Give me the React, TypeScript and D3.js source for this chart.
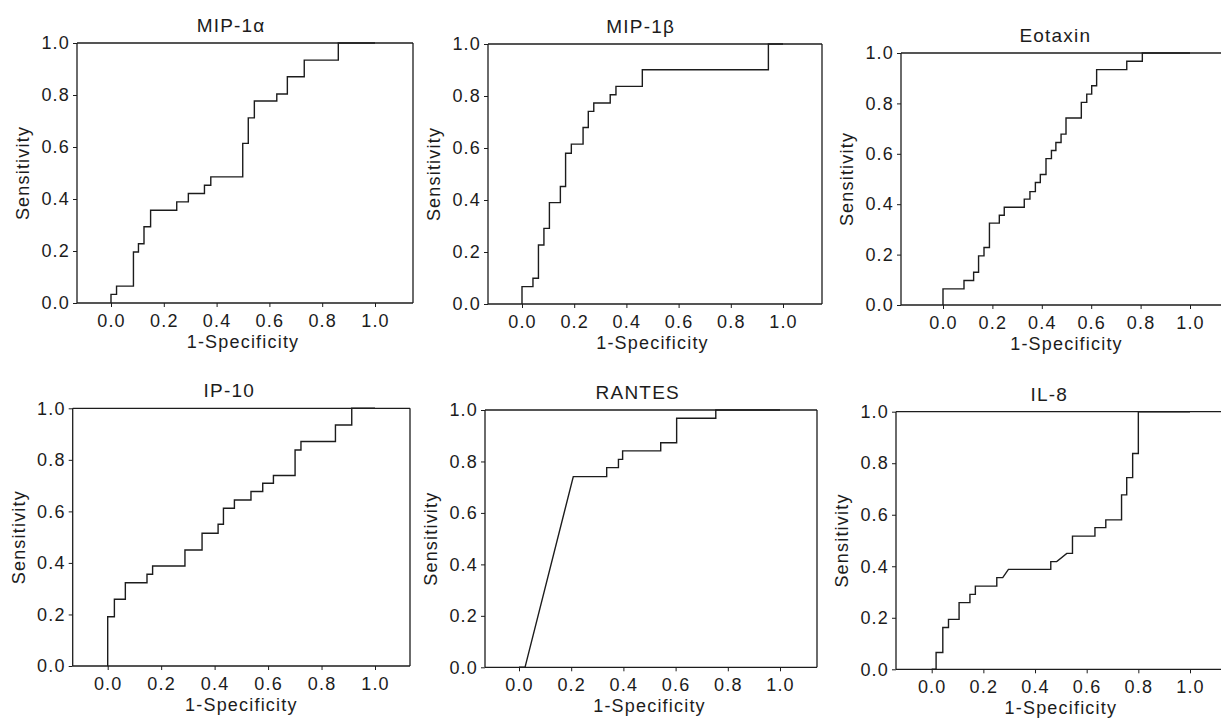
import React, { useEffect, useRef } from "react";
import * as d3 from "d3";

// ROC curve vertices: [1-Specificity, Sensitivity]
const mip1aRoc: [number, number][] = [
  [0, 0], [0, 0.033], [0.021, 0.033], [0.021, 0.065], [0.085, 0.065], [0.085, 0.196],
  [0.104, 0.196], [0.104, 0.228], [0.125, 0.228], [0.125, 0.293], [0.15, 0.293], [0.15, 0.357],
  [0.249, 0.357], [0.249, 0.389], [0.293, 0.389], [0.293, 0.421], [0.354, 0.421], [0.354, 0.453],
  [0.378, 0.453], [0.378, 0.485], [0.499, 0.485], [0.499, 0.614], [0.52, 0.614], [0.52, 0.712],
  [0.543, 0.712], [0.543, 0.777], [0.628, 0.777], [0.628, 0.804], [0.668, 0.804], [0.668, 0.87],
  [0.732, 0.87], [0.732, 0.934], [0.861, 0.934], [0.861, 1], [1, 1],
];

const mip1bRoc: [number, number][] = [
  [0, 0], [0, 0.067], [0.042, 0.067], [0.042, 0.099], [0.063, 0.099], [0.063, 0.227],
  [0.084, 0.227], [0.084, 0.291], [0.105, 0.291], [0.105, 0.39], [0.147, 0.39], [0.147, 0.452],
  [0.167, 0.452], [0.167, 0.58], [0.189, 0.58], [0.189, 0.615], [0.234, 0.615], [0.234, 0.679],
  [0.254, 0.679], [0.254, 0.741], [0.275, 0.741], [0.275, 0.773], [0.338, 0.773], [0.338, 0.805],
  [0.36, 0.805], [0.36, 0.837], [0.461, 0.837], [0.461, 0.901], [0.944, 0.901], [0.944, 1], [1, 1],
];

const eotaxinRoc: [number, number][] = [
  [0, 0], [0, 0.064], [0.085, 0.064], [0.085, 0.097], [0.124, 0.097], [0.124, 0.13],
  [0.144, 0.13], [0.144, 0.195], [0.166, 0.195], [0.166, 0.228], [0.188, 0.228], [0.188, 0.325],
  [0.228, 0.325], [0.228, 0.356], [0.248, 0.356], [0.248, 0.388], [0.329, 0.388], [0.329, 0.42],
  [0.352, 0.42], [0.352, 0.45], [0.374, 0.45], [0.374, 0.486], [0.394, 0.486], [0.394, 0.518],
  [0.417, 0.518], [0.417, 0.581], [0.439, 0.581], [0.439, 0.613], [0.457, 0.613], [0.457, 0.645],
  [0.478, 0.645], [0.478, 0.678], [0.498, 0.678], [0.498, 0.742], [0.56, 0.742], [0.56, 0.804],
  [0.582, 0.804], [0.582, 0.837], [0.602, 0.837], [0.602, 0.87], [0.622, 0.87], [0.622, 0.934],
  [0.744, 0.934], [0.744, 0.967], [0.807, 0.967], [0.807, 1], [1, 1],
];

const ip10Roc: [number, number][] = [
  [0, 0], [0, 0.191], [0.025, 0.191], [0.025, 0.259], [0.066, 0.259], [0.066, 0.323],
  [0.147, 0.323], [0.147, 0.356], [0.168, 0.356], [0.168, 0.388], [0.289, 0.388], [0.289, 0.45],
  [0.353, 0.45], [0.353, 0.515], [0.413, 0.515], [0.413, 0.55], [0.433, 0.55], [0.433, 0.612],
  [0.474, 0.612], [0.474, 0.644], [0.536, 0.644], [0.536, 0.677], [0.58, 0.677], [0.58, 0.709],
  [0.62, 0.709], [0.62, 0.739], [0.701, 0.739], [0.701, 0.838], [0.723, 0.838], [0.723, 0.871],
  [0.852, 0.871], [0.852, 0.935], [0.913, 0.935], [0.913, 1], [1, 1],
];

const rantesRoc: [number, number][] = [
  [0, 0], [0.023, 0], [0.208, 0.741], [0.336, 0.741], [0.336, 0.776], [0.381, 0.776],
  [0.381, 0.808], [0.397, 0.808], [0.397, 0.841], [0.543, 0.841], [0.543, 0.873], [0.604, 0.873],
  [0.604, 0.968], [0.754, 0.968], [0.754, 1], [1, 1],
];

const il8Roc: [number, number][] = [
  [0, 0], [0.017, 0], [0.017, 0.065], [0.043, 0.065], [0.043, 0.162], [0.065, 0.162],
  [0.065, 0.194], [0.106, 0.194], [0.106, 0.259], [0.148, 0.259], [0.148, 0.291], [0.169, 0.291],
  [0.169, 0.323], [0.252, 0.323], [0.252, 0.356], [0.275, 0.356], [0.297, 0.388], [0.461, 0.388],
  [0.461, 0.418], [0.484, 0.418], [0.523, 0.45], [0.545, 0.45], [0.545, 0.517], [0.632, 0.517],
  [0.632, 0.55], [0.674, 0.55], [0.674, 0.58], [0.735, 0.58], [0.735, 0.677], [0.755, 0.677],
  [0.755, 0.744], [0.778, 0.744], [0.778, 0.838], [0.8, 0.838], [0.8, 1], [1, 1],
];

const titles = ["MIP-1\u03b1", "MIP-1\u03b2", "Eotaxin", "IP-10", "RANTES", "IL-8"];
const curves = [mip1aRoc, mip1bRoc, eotaxinRoc, ip10Roc, rantesRoc, il8Roc];
const xTicks = [0, 0.2, 0.4, 0.6, 0.8, 1.0];
const yTicks = [0, 0.2, 0.4, 0.6, 0.8, 1.0];
const xAxisTitle = "1-Specificity";
const yAxisTitle = "Sensitivity";

// Layout (pixel positions of each panel): x of 0 and 1, y of 1 and 0, frame left/right
const layouts = [
  { x0: 111, x1: 375, yTop: 43, yBot: 303, fL: 77, fR: 413 },
  { x0: 522, x1: 783, yTop: 44, yBot: 304, fL: 488, fR: 822 },
  { x0: 943, x1: 1190, yTop: 53, yBot: 305, fL: 901, fR: 1226 },
  { x0: 107.7, x1: 375, yTop: 408.3, yBot: 666, fL: 72.7, fR: 410 },
  { x0: 519, x1: 780, yTop: 410, yBot: 667.3, fL: 485, fR: 817 },
  { x0: 931.7, x1: 1190, yTop: 411.7, yBot: 669.3, fL: 896, fR: 1226 },
];

const W = 1221;
const H = 719;
const FONT = "'Liberation Sans', Arial, Helvetica, sans-serif";
const INK = "#1c1c1c";

export default function App() {
  const ref = useRef<SVGSVGElement | null>(null);

  useEffect(() => {
    const svg = d3.select(ref.current);
    svg.selectAll("*").remove();
    svg.append("rect").attr("width", W).attr("height", H).attr("fill", "#fff");

    layouts.forEach((L, i) => {
      const x = d3.scaleLinear().domain([0, 1]).range([L.x0, L.x1]);
      const y = d3.scaleLinear().domain([0, 1]).range([L.yBot, L.yTop]);
      const g = svg.append("g");

      // frame
      const frame = g.append("g").attr("stroke", INK).attr("stroke-width", 1.3).attr("fill", "none");
      frame.append("line").attr("x1", L.fL).attr("x2", L.fR).attr("y1", y(1)).attr("y2", y(1));
      frame.append("line").attr("x1", L.fL).attr("x2", L.fR).attr("y1", y(0)).attr("y2", y(0));
      frame.append("line").attr("x1", L.fL).attr("x2", L.fL).attr("y1", y(0)).attr("y2", y(1));
      frame.append("line").attr("x1", L.fR).attr("x2", L.fR).attr("y1", y(0)).attr("y2", y(1));

      // y axis
      const ya = g
        .append("g")
        .attr("transform", `translate(${L.fL},0)`)
        .call(
          d3
            .axisLeft(y)
            .tickValues(yTicks)
            .tickFormat(d3.format(".1f") as any)
            .tickSize(4)
            .tickPadding(3)
            .tickSizeOuter(0)
        );
      ya.select(".domain").remove();
      ya.selectAll(".tick line").attr("stroke", INK).attr("stroke-width", 1);
      ya.selectAll(".tick text")
        .attr("fill", INK)
        .style("font-family", FONT)
        .style("font-size", "18px")
        .style("letter-spacing", "1.2px");

      // x axis
      const xa = g
        .append("g")
        .attr("transform", `translate(0,${L.yBot})`)
        .call(
          d3
            .axisBottom(x)
            .tickValues(xTicks)
            .tickFormat(d3.format(".1f") as any)
            .tickSize(4)
            .tickSizeOuter(0)
        );
      xa.select(".domain").remove();
      xa.selectAll(".tick line").attr("stroke", INK).attr("stroke-width", 1);
      xa.selectAll(".tick text")
        .attr("fill", INK)
        .attr("y", 24)
        .attr("dy", null)
        .style("font-family", FONT)
        .style("font-size", "18px")
        .style("letter-spacing", "1.2px");

      // curve
      const line = d3
        .line<[number, number]>()
        .x((d) => x(d[0]))
        .y((d) => y(d[1]));
      g.append("path")
        .datum(curves[i])
        .attr("d", line)
        .attr("fill", "none")
        .attr("stroke", INK)
        .attr("stroke-width", 1.4);

      // title
      g.append("text")
        .attr("x", x(0.455))
        .attr("y", L.yTop - 11)
        .attr("text-anchor", "middle")
        .attr("fill", INK)
        .style("font-family", FONT)
        .style("font-size", "19px")
        .style("letter-spacing", "1.2px")
        .text(titles[i]);

      // x axis title
      g.append("text")
        .attr("x", x(0.5))
        .attr("y", L.yBot + 45)
        .attr("text-anchor", "middle")
        .attr("fill", INK)
        .style("font-family", FONT)
        .style("font-size", "18px")
        .style("letter-spacing", "1.2px")
        .text(xAxisTitle);

      // y axis title
      g.append("text")
        .attr("transform", `translate(${L.fL - 48},${(L.yTop + L.yBot) / 2}) rotate(-90)`)
        .attr("text-anchor", "middle")
        .attr("fill", INK)
        .style("font-family", FONT)
        .style("font-size", "18px")
        .style("letter-spacing", "1.2px")
        .text(yAxisTitle);
    });
  }, []);

  return (
    <svg
      ref={ref}
      width={W}
      height={H}
      style={{ position: "absolute", left: 0, top: 0, display: "block", background: "#fff" }}
    />
  );
}
